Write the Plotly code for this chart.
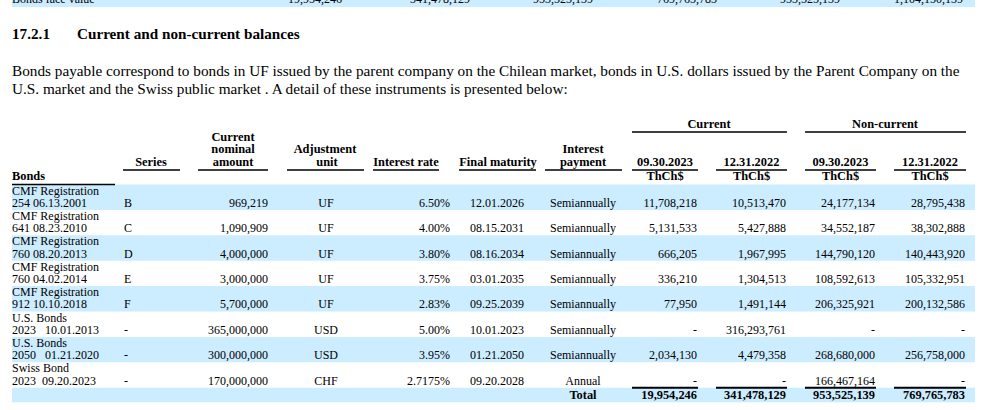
import plotly.graph_objects as go

# ---------------- data ----------------
face_label = "Bonds face value"
face_values = [19954246, 341478129, 953525139, 769765783, 953525139, 1104150139]

heading_num = "17.2.1"
heading_txt = "Current and non-current balances"
para_lines = [
    "Bonds payable correspond to bonds in UF issued by the parent company on the Chilean market, bonds in U.S. dollars issued by the Parent Company on the",
    "U.S. market and the Swiss public market . A detail of these instruments is presented below:",
]

bond_line1 = ["CMF Registration"] * 5 + ["U.S. Bonds", "U.S. Bonds", "Swiss Bond"]
bond_line2 = ["254 06.13.2001", "641 08.23.2010", "760 08.20.2013", "760 04.02.2014",
              "912 10.10.2018", "2023\u00a0\u00a0\u00a010.01.2013",
              "2050\u00a0\u00a0\u00a001.21.2020", "2023\u00a0\u00a009.20.2023"]
series = ["B", "C", "D", "E", "F", "-", "-", "-"]
nominal = [969219, 1090909, 4000000, 3000000, 5700000, 365000000, 300000000, 170000000]
adj_unit = ["UF", "UF", "UF", "UF", "UF", "USD", "USD", "CHF"]
rates = ["6.50%", "4.00%", "3.80%", "3.75%", "2.83%", "5.00%", "3.95%", "2.7175%"]
maturity = ["12.01.2026", "08.15.2031", "08.16.2034", "03.01.2035", "09.25.2039",
            "10.01.2023", "01.21.2050", "09.20.2028"]
payment = ["Semiannually"] * 7 + ["Annual"]
cur_2023 = [11708218, 5131533, 666205, 336210, 77950, None, 2034130, None]
cur_2022 = [10513470, 5427888, 1967995, 1304513, 1491144, 316293761, 4479358, None]
non_2023 = [24177134, 34552187, 144790120, 108592613, 206325921, None, 268680000, 166467164]
non_2022 = [28795438, 38302888, 140443920, 105332951, 200132586, None, 256758000, None]
totals = [19954246, 341478129, 953525139, 769765783]

group_labels = ["Current", "Non-current"]
date_labels = ["09.30.2023", "12.31.2022", "09.30.2023", "12.31.2022"]
unit_label = "ThCh$"


def fmt(v):
    return "-" if v is None else f"{v:,}"


# ---------------- layout constants ----------------
FONT = "Liberation Serif, Times New Roman, serif"
BLUE = "rgb(204,236,255)"
W, H = 1004, 410
LEFT, RIGHT = 12, 975
HDR = 12.4

X_SERIES = 124
X_NOMINAL = 268
X_ADJ = 326
X_RATE = 450
X_MAT = 497
X_PAY = 583
X_VAL = [697, 786, 875, 965]
UL_VAL = [(632, 698), (716, 787), (805, 876), (894, 966)]
FACE_X = [342, 470, 593, 717, 840, 963]

ROW_TOP0 = 184.5
ROW_H = 25.4
n = len(bond_line1)
row_tops = [ROW_TOP0 + i * ROW_H for i in range(n)]
y1 = [t + 7 for t in row_tops]
y2 = [t + 19.3 for t in row_tops]
TOTAL_TOP = ROW_TOP0 + n * ROW_H
TOTAL_BOT = TOTAL_TOP + 14.5
Y_TOTAL = TOTAL_TOP + 8

fig = go.Figure()


def add_text(xs, ys, texts, pos, bold=False, size=12):
    fig.add_trace(go.Scatter(
        x=xs, y=ys, text=texts, mode="text", textposition=pos,
        textfont=dict(family=FONT, size=size, color="black",
                      weight="bold" if bold else "normal"),
        hoverinfo="skip", showlegend=False, cliponaxis=True))


def hline(x0, x1, y, w=1.6):
    fig.add_shape(type="line", xref="x", yref="y", x0=x0, x1=x1, y0=y, y1=y,
                  line=dict(color="black", width=w), layer="above")


def band(y0, y1_):
    fig.add_shape(type="rect", xref="x", yref="y", x0=LEFT, x1=RIGHT, y0=y0, y1=y1_,
                  fillcolor=BLUE, line=dict(width=0), layer="below")


# bands
band(-6, 7)
for i in range(n):
    if i % 2 == 0:
        band(row_tops[i], row_tops[i] + ROW_H)
band(TOTAL_TOP, TOTAL_BOT)

# cut-off top row
add_text([LEFT], [0], [face_label], "middle right")
add_text(FACE_X, [0] * len(FACE_X), [fmt(v) for v in face_values], "middle left")

# heading and paragraph
add_text([LEFT], [35], [heading_num], "middle right", bold=True, size=15.2)
add_text([77], [35], [heading_txt], "middle right", bold=True, size=15.2)
add_text([LEFT, LEFT], [72, 90], para_lines, "middle right", size=15.25)

# column headers
add_text([709, 885], [125, 125], group_labels, "middle center", bold=True, size=HDR)
hline(632, 787, 132)
hline(805, 966, 132)
add_text([LEFT], [177], ["Bonds"], "middle right", bold=True, size=HDR)
hline(LEFT, 115, 184.5)
add_text([151], [163], ["Series"], "middle center", bold=True, size=HDR)
hline(123, 180, 170)
add_text([233, 233, 233], [138, 150, 163], ["Current", "nominal", "amount"], "middle center",
         bold=True, size=HDR)
hline(198, 268, 170)
add_text([325, 327], [150, 163], ["Adjustment", "unit"], "middle center", bold=True, size=HDR)
hline(287, 364, 170)
add_text([406], [163], ["Interest rate"], "middle center", bold=True, size=HDR)
hline(373, 439, 170)
add_text([498], [163], ["Final maturity"], "middle center", bold=True, size=HDR)
hline(459, 536, 170)
add_text([583, 583], [150, 163], ["Interest", "payment"], "middle center", bold=True, size=HDR)
hline(545, 622, 170)
centers = [(a + b) / 2 for a, b in UL_VAL]
add_text(centers, [163] * 4, date_labels, "middle center", bold=True, size=HDR)
add_text(centers, [177] * 4, [unit_label] * 4, "middle center", bold=True, size=HDR)
for a, b in UL_VAL:
    hline(a, b, 170)

# body
add_text([LEFT] * n, y1, bond_line1, "middle right")
add_text([LEFT] * n, y2, bond_line2, "middle right")
add_text([X_SERIES] * n, y2, series, "middle right")
add_text([X_NOMINAL] * n, y2, [fmt(v) for v in nominal], "middle left")
add_text([X_ADJ] * n, y2, adj_unit, "middle center")
add_text([X_RATE] * n, y2, rates, "middle left")
add_text([X_MAT] * n, y2, maturity, "middle center")
add_text([X_PAY] * n, y2, payment, "middle center")
for x, col in zip(X_VAL, [cur_2023, cur_2022, non_2023, non_2022]):
    add_text([x] * n, y2, [fmt(v) for v in col], "middle left")

# totals
for a, b in UL_VAL:
    hline(a, b, TOTAL_TOP, w=2)
add_text([X_PAY], [Y_TOTAL], ["Total"], "middle center", bold=True, size=HDR)
add_text(X_VAL, [Y_TOTAL] * 4, [fmt(v) for v in totals], "middle left", bold=True, size=HDR)

fig.update_layout(
    width=W, height=H, margin=dict(l=0, r=0, t=0, b=0),
    paper_bgcolor="white", plot_bgcolor="white",
    xaxis=dict(range=[0, W], visible=False, fixedrange=True),
    yaxis=dict(range=[H, 0], visible=False, fixedrange=True),
    showlegend=False,
)

fig.write_html("out.html", config={"displayModeBar": False},
               post_script="document.body.style.margin='0px';")
